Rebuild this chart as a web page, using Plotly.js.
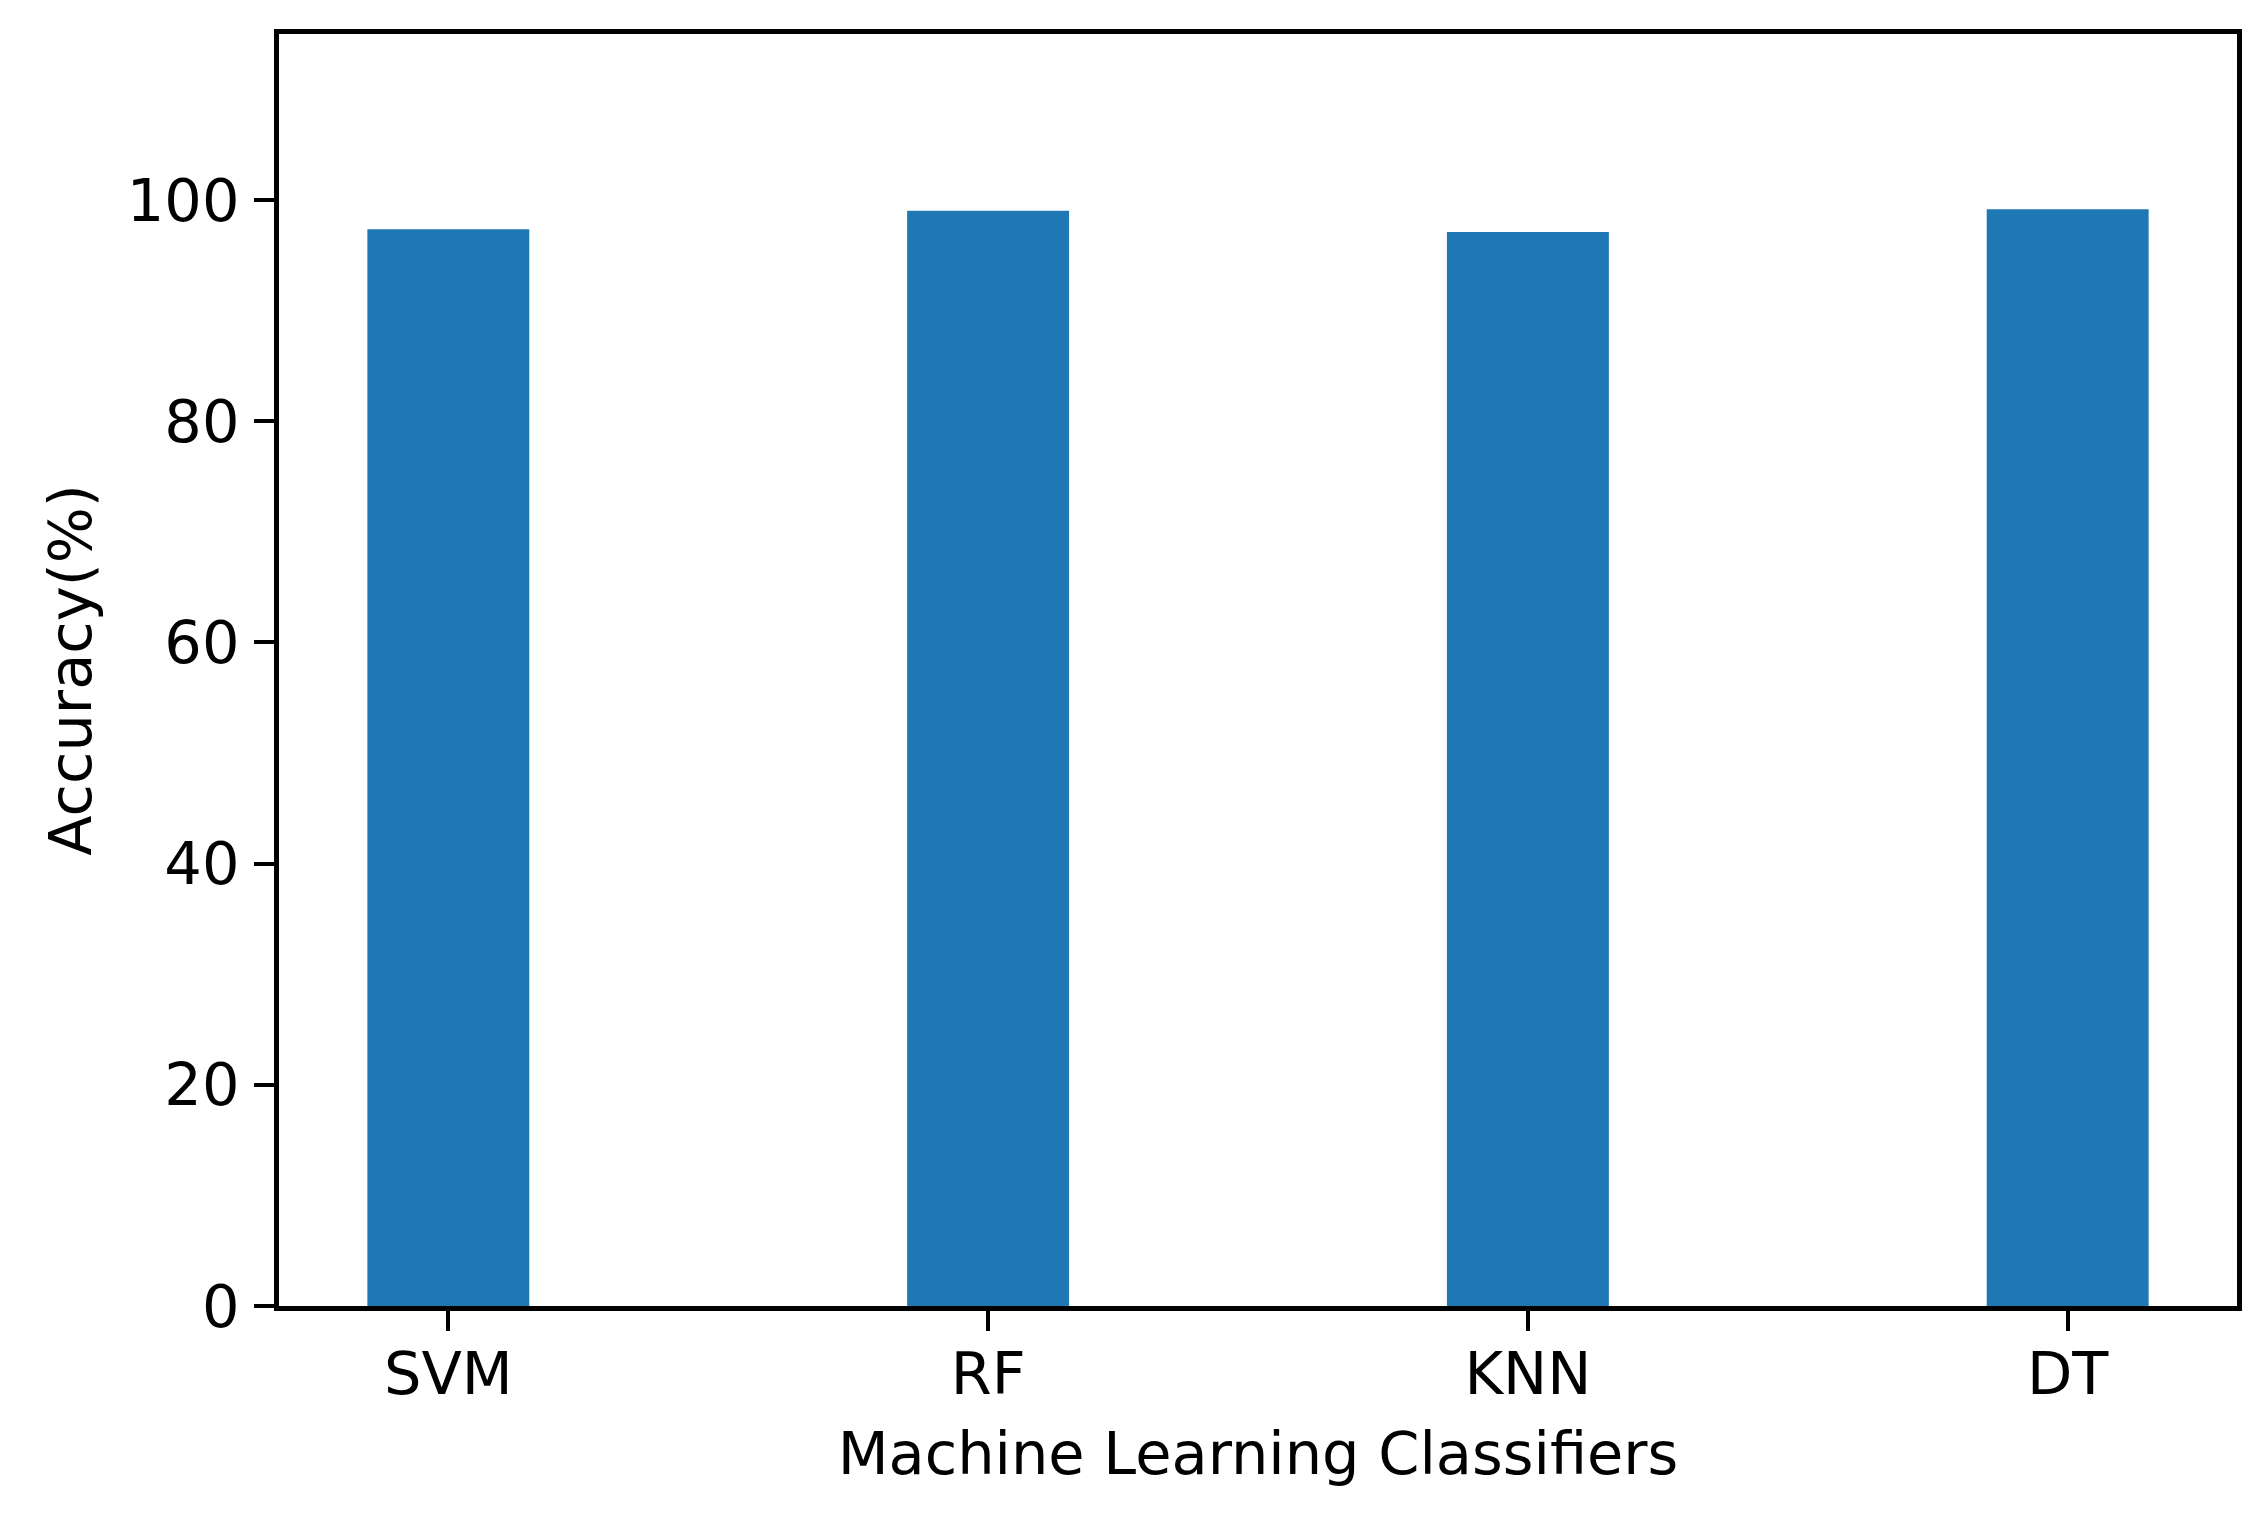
<!DOCTYPE html>
<html>
<head>
<meta charset="utf-8">
<script src="https://cdn.plot.ly/plotly-3.0.1.min.js"></script>
<style>
  body { margin: 0; background: #fff; }
  #chart { width: 2260px; height: 1520px; }
</style>
</head>
<body>
<div id="chart"></div>
<script>
// classifiers and their accuracy
var classifiers = ["SVM", "RF", "KNN", "DT"];
var accuracy = [97.35, 99.03, 97.1, 99.15];
var yTicks = [0, 20, 40, 60, 80, 100];

var fontFamily = "DejaVu Sans, sans-serif";

var trace = {
	type: "bar",
	x: classifiers,
	y: accuracy,
	width: 0.3,
	marker: {color: "#1f77b4", line: {width: 0}},
	hoverinfo: "none"
};

var axisCommon = {
	showline: true,
	mirror: true,
	linecolor: "#000",
	linewidth: 4.5,
	ticks: "outside",
	ticklen: 20,
	tickwidth: 4,
	tickcolor: "#000",
	showgrid: false,
	zeroline: false,
	tickfont: {family: fontFamily, size: 59, color: "#000"}
};

var layout = {
	width: 2260,
	height: 1520,
	margin: {l: 279, r: 23, t: 34, b: 214},
	paper_bgcolor: "#fff",
	plot_bgcolor: "#fff",
	showlegend: false,
	font: {family: fontFamily, color: "#000"},
	xaxis: Object.assign({}, axisCommon, {
		type: "category",
		range: [-0.3137, 3.3137],
		ticklabelstandoff: -8,
		title: {text: "Machine Learning Classifiers", font: {family: fontFamily, size: 59, color: "#000"}, standoff: 28}
	}),
	yaxis: Object.assign({}, axisCommon, {
		range: [0, 115],
		tickvals: yTicks,
		ticktext: yTicks.map(String),
		ticklabelstandoff: 3,
		title: {text: "Accuracy(%)", font: {family: fontFamily, size: 59, color: "#000"}, standoff: 18}
	})
};

Plotly.newPlot(document.getElementById("chart"), [trace], layout, {displayModeBar: false, responsive: false});
</script>
</body>
</html>
